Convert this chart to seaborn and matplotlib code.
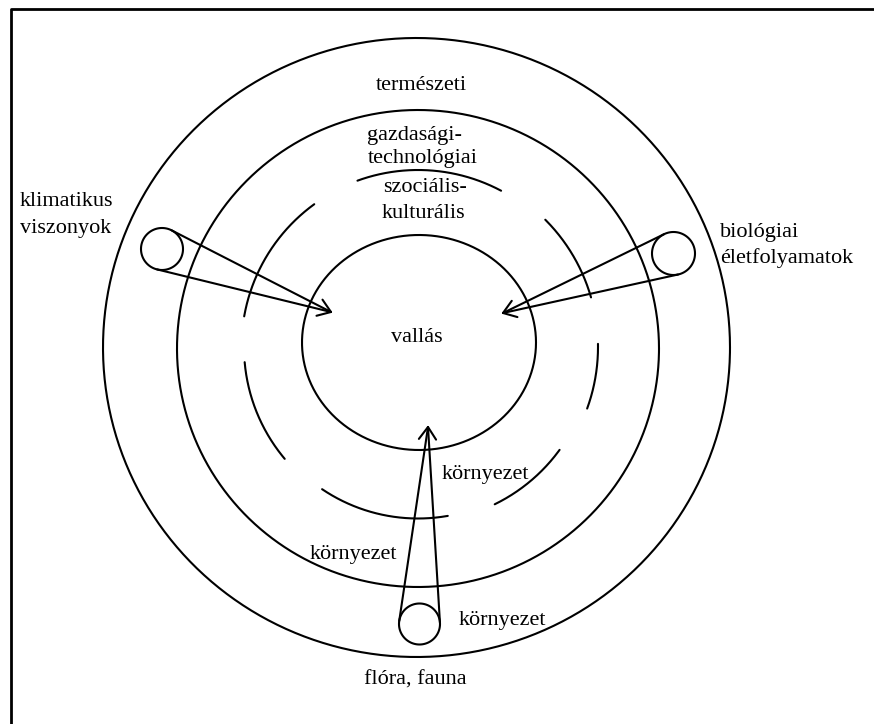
import numpy as np
import pandas as pd
import matplotlib
matplotlib.use("Agg")
import matplotlib.pyplot as plt
import seaborn as sns

# full rings (outer -> inner), in pixel coords of the picture
ring_cx = [416.5, 418.0, 419.0]
ring_cy = [347.5, 348.5, 342.5]
ring_rx = [313.5, 241.0, 117.0]
ring_ry = [309.5, 238.5, 107.5]

# broken ring between "gazdasági" and "vallás" : arc pieces, angles in degrees
gap_cx, gap_cy = 418.0, 347.0
seg_r = [177, 176.5, 174, 171.5, 175, 180, 180]
seg_start = [62, 126, 185, 236, 296, 340, 16]
seg_end = [110, 170, 220, 280, 324, 361, 45]

# small circles (klimatikus, biológiai, flóra) and the arrow tips they point to
sat_x = [162.0, 673.5, 419.5]
sat_y = [249.0, 253.5, 624.0]
sat_r = [21.0, 21.5, 20.5]
tip_x = [331.0, 503.0, 428.0]
tip_y = [312.0, 313.0, 427.0]

labels = ["természeti", "gazdasági-", "technológiai", "szociális-", "kulturális",
          "klimatikus", "viszonyok", "biológiai", "életfolyamatok", "vallás",
          "környezet", "környezet", "környezet", "flóra, fauna"]
label_x = [421, 414.5, 422.5, 425, 423.5, 20, 20, 720, 720, 416.5, 442, 310, 459, 415]
label_y = [90.5, 140, 163, 191.5, 218, 206.5, 233, 237, 263, 341.5, 479, 558.5, 624.5, 684.5]
label_ha = ["center"] * 5 + ["left"] * 4 + ["center", "left", "left", "left", "center"]


def arc_points(cx, cy, rx, ry, a0, a1, n=200):
    t = np.radians(np.linspace(a0, a1, n))
    return cx + rx * np.cos(t), cy - ry * np.sin(t)


strokes = []  # list of (x array, y array)

for cx, cy, rx, ry in zip(ring_cx, ring_cy, ring_rx, ring_ry):
    strokes.append(arc_points(cx, cy, rx, ry, 0, 360, 400))

for r, a0, a1 in zip(seg_r, seg_start, seg_end):
    strokes.append(arc_points(gap_cx, gap_cy, r, r, a0, a1))

for cx, cy, r, tx, ty in zip(sat_x, sat_y, sat_r, tip_x, tip_y):
    strokes.append(arc_points(cx, cy, r, r, 0, 360, 120))
    d = np.hypot(tx - cx, ty - cy)
    phi = np.arctan2(ty - cy, tx - cx)
    beta = np.arccos(r / d)
    for s in (1, -1):
        px, py = cx + r * np.cos(phi + s * beta), cy + r * np.sin(phi + s * beta)
        strokes.append((np.array([px, tx]), np.array([py, ty])))
    # open arrow head
    L, half = 15.0, np.radians(35)
    ax_ = [tx - L * np.cos(phi + half), tx, tx - L * np.cos(phi - half)]
    ay_ = [ty - L * np.sin(phi + half), ty, ty - L * np.sin(phi - half)]
    strokes.append((np.array(ax_), np.array(ay_)))

df = pd.concat([pd.DataFrame({"x": x, "y": y, "stroke": i}) for i, (x, y) in enumerate(strokes)],
               ignore_index=True)

frame = pd.DataFrame({"x": [874, 11, 11], "y": [9, 9, 724], "stroke": 0})

sns.set_theme(style="white")
plt.rcParams['font.family'] = ['Liberation Serif', 'DejaVu Serif']

fig = plt.figure(figsize=(8.74, 7.24), dpi=100)
ax = fig.add_axes([0, 0, 1, 1])

sns.lineplot(data=df, x="x", y="y", units="stroke", estimator=None, sort=False,
             color="black", lw=1.5, legend=False, ax=ax)
sns.lineplot(data=frame, x="x", y="y", units="stroke", estimator=None, sort=False,
             color="black", lw=2.0, legend=False, ax=ax)

for t, x, y, ha in zip(labels, label_x, label_y, label_ha):
    ax.text(x, y, t, ha=ha, va="baseline", fontsize=16, color="black")

ax.set_xlim(0, 874)
ax.set_ylim(724, 0)
ax.axis("off")

fig.savefig("out.png", dpi=100)
